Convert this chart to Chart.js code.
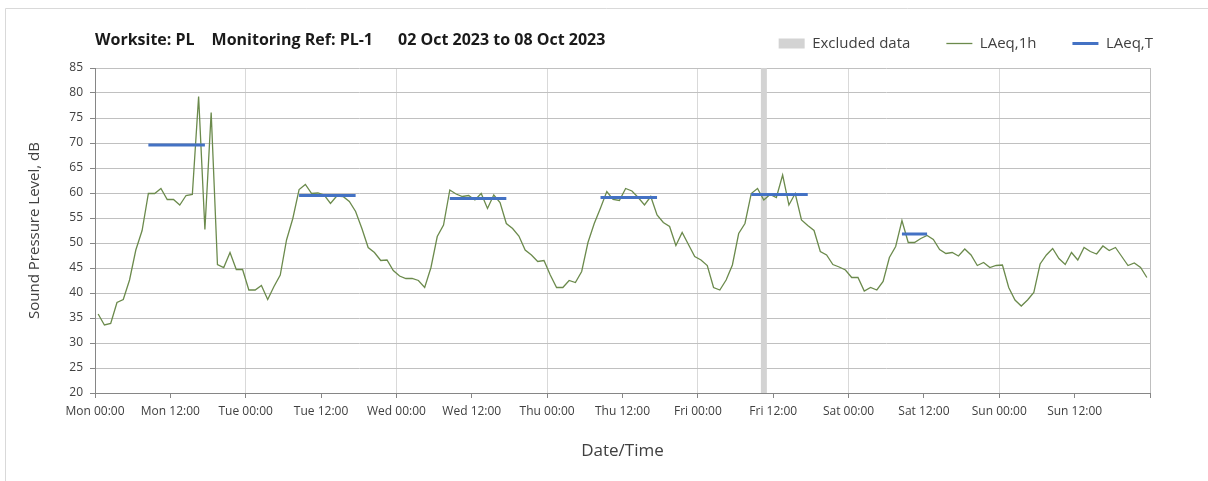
<!DOCTYPE html>
<html>
<head>
<meta charset="utf-8">
<title>PL-1 noise monitoring</title>
<script src="https://cdn.jsdelivr.net/npm/chart.js"></script>
<style>
  html, body { margin: 0; padding: 0; background: #fff; }
  #chart { display: block; }
</style>
</head>
<body>
<canvas id="chart" width="1208" height="481"></canvas>
<script>
// hourly LAeq,1h from Mon 02 Oct 00:00, one row per day
const laeq1h = [
  35.8, 33.6, 33.9, 38.1, 38.7, 42.6, 48.6, 52.5, 59.9, 59.9, 60.9, 58.7, 58.7, 57.6, 59.5, 59.7, 79.3, 52.7, 76.1, 45.7, 45.1, 48.1, 44.7, 44.7,
  40.6, 40.6, 41.5, 38.7, 41.3, 43.6, 50.6, 54.9, 60.7, 61.7, 59.9, 60.0, 59.6, 57.9, 59.4, 59.3, 58.3, 56.3, 52.9, 49.1, 48.1, 46.5, 46.6, 44.5,
  43.4, 42.9, 42.9, 42.5, 41.1, 45.1, 51.3, 53.6, 60.6, 59.8, 59.3, 59.5, 58.6, 59.9, 56.9, 59.6, 58.1, 53.9, 52.9, 51.4, 48.6, 47.6, 46.3, 46.5,
  43.6, 41.1, 41.1, 42.5, 42.1, 44.3, 50.1, 53.9, 57.0, 60.3, 58.7, 58.5, 60.9, 60.4, 59.1, 57.6, 59.3, 55.6, 54.1, 53.3, 49.5, 52.1, 49.7, 47.3,
  46.6, 45.5, 41.1, 40.6, 42.6, 45.6, 51.9, 53.9, 59.9, 60.9, 58.6, 59.7, 59.1, 63.6, 57.6, 59.9, 54.6, 53.5, 52.5, 48.3, 47.6, 45.7, 45.2, 44.6,
  43.1, 43.1, 40.4, 41.1, 40.6, 42.3, 47.1, 49.3, 54.5, 50.1, 50.1, 50.9, 51.5, 50.7, 48.7, 47.9, 48.1, 47.4, 48.8, 47.6, 45.5, 46.1, 45.1, 45.5,
  45.6, 41.1, 38.6, 37.4, 38.6, 40.1, 45.8, 47.6, 48.9, 46.9, 45.7, 48.1, 46.6, 49.1, 48.3, 47.8, 49.4, 48.5, 49.1, 47.3, 45.5, 46.0, 45.1, 43.1
];

// LAeq,T periods: first and last hour (counted from Mon 00:00) and level
const periodStart = [8, 32, 56, 80, 104, 128];
const periodEnd = [17, 41, 65, 89, 113, 132];
const periodLevel = [69.6, 59.5, 58.9, 59.1, 59.7, 51.8];

// excluded hours
const excludedFrom = [106];
const excludedTo = [107];

const tickLabels = [
  'Mon 00:00', 'Mon 12:00', 'Tue 00:00', 'Tue 12:00', 'Wed 00:00', 'Wed 12:00', 'Thu 00:00',
  'Thu 12:00', 'Fri 00:00', 'Fri 12:00', 'Sat 00:00', 'Sat 12:00', 'Sun 00:00', 'Sun 12:00'
];
const titleParts = ['Worksite: PL', 'Monitoring Ref: PL-1', '02 Oct 2023 to 08 Oct 2023'];

const yMin = 20;
const yMax = 85;

Chart.defaults.font.family = "'Open Sans', sans-serif";
Chart.defaults.color = '#404040';

// points sit in the middle of their hour
const hourlyPoints = laeq1h.map((v, i) => ({x: i + 0.5, y: v}));

const periodPoints = [];
periodStart.forEach((s, i) => {
  periodPoints.push({x: s + 0.5, y: periodLevel[i]});
  periodPoints.push({x: periodEnd[i] + 0.5, y: periodLevel[i]});
  periodPoints.push({x: periodEnd[i] + 1, y: null});
});

const excludedPoints = [];
excludedFrom.forEach((s, i) => {
  excludedPoints.push({x: s, y: yMax});
  excludedPoints.push({x: excludedTo[i], y: yMax});
  excludedPoints.push({x: excludedTo[i], y: null});
});

// title line and the outer frame
const header = {
  id: 'header',
  beforeDraw(chart) {
    const {ctx, chartArea} = chart;
    ctx.save();
    ctx.strokeStyle = '#d9d9d9';
    ctx.lineWidth = 1;
    ctx.beginPath();
    ctx.moveTo(5.5, chart.height);
    ctx.lineTo(5.5, 8.5);
    ctx.lineTo(chart.width, 8.5);
    ctx.stroke();

    ctx.font = "bold 16px 'Open Sans', sans-serif";
    ctx.fillStyle = '#1a1a1a';
    ctx.textBaseline = 'middle';
    const gaps = [17, 25];
    let x = chartArea.left;
    titleParts.forEach((part, i) => {
      ctx.fillText(part, x, 40);
      x += ctx.measureText(part).width + (gaps[i] || 0);
    });
    ctx.restore();
  }
};

// invisible axes used only as spacers around the plot
const spacer = size => ({
  type: 'linear',
  display: true,
  grid: {display: false},
  border: {display: false},
  ticks: {display: false},
  afterFit: s => {
    if (s.isHorizontal()) s.height = size; else s.width = size;
  }
});

const ctx = document.getElementById('chart').getContext('2d');
const myChart = new Chart(ctx, {
  type: 'line',
  data: {
    datasets: [
      {
        label: 'Excluded data',
        data: excludedPoints,
        xAxisID: 'x', yAxisID: 'y',
        backgroundColor: '#d3d3d3',
        borderColor: 'rgba(0,0,0,0)',
        borderWidth: 0,
        pointRadius: 0,
        fill: 'start',
        spanGaps: false,
        order: 2
      },
      {
        label: 'LAeq,1h',
        data: hourlyPoints,
        xAxisID: 'x', yAxisID: 'y',
        borderColor: '#6b8a4c',
        backgroundColor: '#6b8a4c',
        borderWidth: 1.3,
        pointRadius: 0,
        tension: 0,
        fill: false,
        order: 1
      },
      {
        label: 'LAeq,T',
        data: periodPoints,
        xAxisID: 'x', yAxisID: 'y',
        borderColor: '#4472c4',
        backgroundColor: '#4472c4',
        borderWidth: 3,
        pointRadius: 0,
        tension: 0,
        fill: false,
        spanGaps: false,
        order: 0
      }
    ]
  },
  options: {
    responsive: false,
    animation: false,
    devicePixelRatio: 1,
    events: [],
    layout: {padding: {top: 0, right: 19, bottom: 0, left: 0}},
    plugins: {
      title: {display: false},
      tooltip: {enabled: false},
      legend: {
        position: 'top',
        align: 'end',
        labels: {
          usePointStyle: true,
          pointStyleWidth: 26,
          boxHeight: 10,
          padding: 36,
          color: '#404040',
          font: {size: 15},
          generateLabels(chart) {
            return chart.data.datasets.map((ds, i) => {
              const band = ds.fill === 'start';
              return {
                text: ds.label,
                datasetIndex: i,
                hidden: false,
                pointStyle: band ? 'rect' : 'line',
                fillStyle: band ? ds.backgroundColor : ds.borderColor,
                strokeStyle: ds.borderColor,
                lineWidth: band ? 0 : ds.borderWidth,
                fontColor: '#404040'
              };
            });
          }
        }
      }
    },
    scales: {
      x: {
        type: 'linear',
        position: 'bottom',
        min: 0,
        max: 168,
        afterFit: s => { s.height = 88; },
        ticks: {
          stepSize: 12,
          autoSkip: false,
          maxRotation: 0,
          padding: 6,
          color: '#404040',
          font: {size: 12},
          callback: v => tickLabels[v / 12] || ''
        },
        grid: {
          color: c => {
            if (!c.tick) return 'rgba(0,0,0,0)';
            if (c.tick.value === 168) return '#bfbfbf';
            return c.tick.value % 24 === 0 ? '#d9d9d9' : 'rgba(0,0,0,0)';
          },
          tickColor: '#868686',
          tickLength: 5
        },
        border: {color: '#868686'},
        title: {
          display: true,
          text: 'Date/Time',
          color: '#404040',
          font: {size: 17},
          padding: {top: 0, bottom: 20}
        }
      },
      y: {
        type: 'linear',
        position: 'left',
        min: yMin,
        max: yMax,
        afterFit: s => { s.width = 95; },
        ticks: {stepSize: 5, padding: 7, color: '#404040', font: {size: 12}},
        grid: {color: '#c0c0c0', tickColor: '#868686', tickLength: 5},
        border: {color: '#868686'},
        title: {
          display: true,
          text: 'Sound Pressure Level, dB',
          color: '#404040',
          font: {size: 15},
          padding: {top: 26, bottom: 0}
        }
      },
      xPad: Object.assign(spacer(7), {position: 'top'}),
      yPad: Object.assign(spacer(39), {position: 'right'})
    }
  },
  plugins: [header]
});
</script>
</body>
</html>
